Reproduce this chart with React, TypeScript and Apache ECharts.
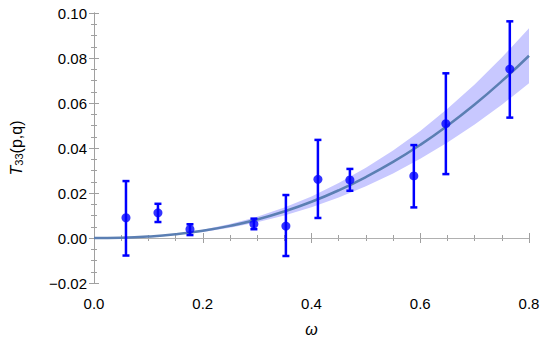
import React, { useEffect, useRef } from "react";
import * as echarts from "echarts";

// measured points
const omega = [0.0588, 0.1176, 0.1765, 0.2941, 0.3529, 0.4118, 0.4706, 0.5882, 0.6471, 0.7647];
const tValue = [0.009, 0.0112, 0.0039, 0.0062, 0.0053, 0.0261, 0.0258, 0.0276, 0.0508, 0.0751];
const errLow = [-0.0078, 0.0071, 0.0013, 0.0039, -0.008, 0.0089, 0.021, 0.0136, 0.0284, 0.0535];
const errHigh = [0.0253, 0.0152, 0.0061, 0.0086, 0.0191, 0.0436, 0.0307, 0.0413, 0.0732, 0.0963];

// fitted curve and band
const fitX = [0, 0.05, 0.1, 0.15, 0.2, 0.25, 0.3, 0.35, 0.4, 0.45, 0.5, 0.55, 0.6, 0.65, 0.7, 0.75, 0.8];
const fitY = [0, 0.00013, 0.00064, 0.00164, 0.0032, 0.0054, 0.0082, 0.0118, 0.0161, 0.0212, 0.0271, 0.0338, 0.0414, 0.0499, 0.0593, 0.0697, 0.081];
const bandLow = [0, 0.00011, 0.00054, 0.0014, 0.0027, 0.0046, 0.007, 0.01, 0.0137, 0.018, 0.023, 0.0287, 0.0352, 0.0424, 0.0504, 0.0592, 0.0688];
const bandHigh = [0, 0.00015, 0.00074, 0.0019, 0.0037, 0.0062, 0.0094, 0.0136, 0.0185, 0.0244, 0.0312, 0.0389, 0.0476, 0.0574, 0.0682, 0.0802, 0.0932];

const xTicks = { min: 0, max: 0.8, interval: 0.2 };
const yTicks = { min: -0.02, max: 0.1, interval: 0.02 };

const FONT = "'Liberation Sans', Arial, sans-serif";
const FRAME = "#a0a0a0";
const FS = 15;

export default function App() {
  const ref = useRef<HTMLDivElement>(null);
  useEffect(() => {
    if (!ref.current) return;
    const chart = echarts.init(ref.current, null, { renderer: "svg" });
    const axisCommon = (showLabel: boolean) => ({
      type: "value" as const,
      axisLine: { show: true, lineStyle: { color: FRAME, width: 1 } },
      axisTick: { show: true, inside: true, length: 5, lineStyle: { color: FRAME } },
      minorTick: { show: true, splitNumber: 4, length: 3, lineStyle: { color: FRAME } },
      splitLine: { show: false },
      axisLabel: { show: showLabel },
    });
    chart.setOption({
      animation: false,
      grid: { left: 91, right: 16, top: 13, bottom: 68 },
      xAxis: [
        {
          ...axisCommon(true),
          ...xTicks,
          position: "bottom",
          axisLabel: {
            show: true,
            color: "#000",
            fontFamily: FONT,
            fontSize: FS,
            margin: 13,
            formatter: (v: number) => v.toFixed(1),
          },
          name: "ω",
          nameLocation: "middle",
          nameGap: 38,
          nameTextStyle: { fontFamily: FONT, fontSize: 16, fontStyle: "italic", color: "#000" },
        },
        { ...axisCommon(false), ...xTicks, position: "top" },
      ],
      yAxis: [
        {
          ...axisCommon(true),
          ...yTicks,
          position: "left",
          axisLabel: {
            show: true,
            color: "#000",
            fontFamily: FONT,
            fontSize: FS,
            margin: 7,
            formatter: (v: number) => (v < -1e-9 ? "−" : "") + Math.abs(v).toFixed(2),
          },
          name: "{i|T}{s|33}{n|(p,q)}",
          nameLocation: "middle",
          nameRotate: 90,
          nameGap: 70,
          nameTextStyle: {
            fontFamily: FONT,
            color: "#000",
            rich: {
              i: { fontFamily: FONT, fontSize: 16, fontStyle: "italic", color: "#000", verticalAlign: "bottom", lineHeight: 18 },
              s: { fontFamily: FONT, fontSize: 11, color: "#000", verticalAlign: "bottom", lineHeight: 12 },
              n: { fontFamily: FONT, fontSize: 16, color: "#000", verticalAlign: "bottom", lineHeight: 18 },
            },
          },
        },
        { ...axisCommon(false), ...yTicks, position: "right" },
      ],
      series: [
        {
          type: "custom",
          data: [[0, 0]],
          z: 1,
          silent: true,
          renderItem: (params: any, api: any) => {
            const upper = fitX.map((x, i) => api.coord([x, bandHigh[i]]));
            const lower = fitX.map((x, i) => api.coord([x, bandLow[i]])).reverse();
            return {
              type: "polygon",
              shape: { points: upper.concat(lower) },
              style: { fill: "#c8c8ff", stroke: "none" },
            };
          },
        },
        {
          type: "line",
          data: fitX.map((x, i) => [x, fitY[i]]),
          smooth: true,
          symbol: "none",
          lineStyle: { color: "#5b7fb3", width: 2.5 },
          silent: true,
          z: 3,
          markLine: {
            silent: true,
            symbol: "none",
            label: { show: false },
            lineStyle: { color: "#b0b0b0", width: 1, type: "solid" },
            data: [{ yAxis: 0 }],
            z: 2,
          },
        },
        {
          type: "custom",
          data: omega.map((x, i) => [x, errLow[i], errHigh[i]]),
          z: 4,
          renderItem: (params: any, api: any) => {
            const x = api.value(0);
            const lo = api.coord([x, api.value(1)]);
            const hi = api.coord([x, api.value(2)]);
            const cap = 3.5;
            const style = { stroke: "#0000ff", lineWidth: 2.5 };
            return {
              type: "group",
              children: [
                { type: "line", shape: { x1: lo[0], y1: lo[1], x2: hi[0], y2: hi[1] }, style },
                { type: "line", shape: { x1: lo[0] - cap, y1: lo[1], x2: lo[0] + cap, y2: lo[1] }, style },
                { type: "line", shape: { x1: hi[0] - cap, y1: hi[1], x2: hi[0] + cap, y2: hi[1] }, style },
              ],
            };
          },
        },
        {
          type: "scatter",
          data: omega.map((x, i) => [x, tValue[i]]),
          symbol: "circle",
          symbolSize: 9,
          itemStyle: { color: "#0000ff" },
          z: 5,
        },
      ],
    });
    return () => chart.dispose();
  }, []);
  return <div ref={ref} style={{ width: 545, height: 351, position: "absolute", left: 0, top: 0 }} />;
}
